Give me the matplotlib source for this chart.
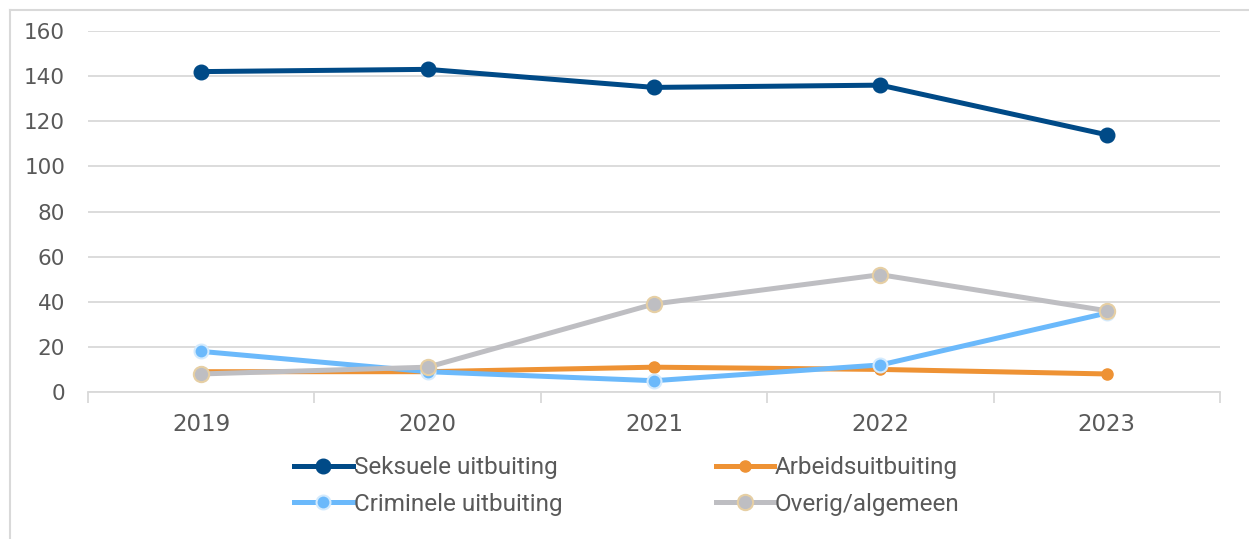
import matplotlib
matplotlib.use("Agg")
import matplotlib.pyplot as plt
from matplotlib.lines import Line2D

# ----------------------------------------
# data
# ----------------------------------------
years = ["2019", "2020", "2021", "2022", "2023"]
seksueel = [142, 143, 135, 136, 114]
arbeid = [9, 9, 11, 10, 8]
crimineel = [18, 9, 5, 12, 35]
overig = [8, 11, 39, 52, 36]
y_ticks = [0, 20, 40, 60, 80, 100, 120, 140, 160]

plt.rcParams["font.family"] = ["Roboto", "DejaVu Sans"]
TXT = "#595959"
GRID = "#D9D9D9"
LW = 3.6

fig = plt.figure(figsize=(12.49, 5.39), dpi=100)
W, H = 1249, 539
ax = fig.add_axes([88 / W, (H - 392) / H, (1220 - 88) / W, (392 - 31) / H])

x = list(range(len(years)))

l_sek, = ax.plot(x, seksueel, color="#004A87", lw=LW, marker="o", ms=10.5,
                 mfc="#004A87", mec="#004A87", label="Seksuele uitbuiting", zorder=3)
l_arb, = ax.plot(x, arbeid, color="#EE9234", lw=LW, marker="o", ms=8,
                 mfc="#EE9234", mec="#EE9234", label="Arbeidsuitbuiting", zorder=3)
l_cri, = ax.plot(x, crimineel, color="#6BB9FB", lw=LW, marker="o", ms=10,
                 mfc="#6BB9FB", mec="#D3EAFD", mew=1.5, label="Criminele uitbuiting", zorder=3)
l_ove, = ax.plot(x, overig, color="#BEBEC2", lw=LW, marker="o", ms=11,
                 mfc="#BEBEC2", mec="#E6CFA4", mew=1.5, label="Overig/algemeen", zorder=3)

ax.set_xlim(-0.5, len(years) - 0.5)
ax.set_ylim(0, 160)
ax.set_yticks(y_ticks)
ax.set_yticklabels([str(v) for v in y_ticks])
ax.grid(axis="y", color=GRID, lw=1.3, zorder=0)
ax.set_axisbelow(True)

ax.set_xticks(x)
ax.set_xticklabels(years)
ax.set_xticks([i - 0.5 for i in range(len(years) + 1)], minor=True)
ax.tick_params(axis="x", which="major", length=0, pad=15, labelsize=16.5, labelcolor=TXT)
ax.tick_params(axis="x", which="minor", length=8, width=1.3, color=GRID)
ax.tick_params(axis="y", length=0, pad=16.5, labelsize=15.5, labelcolor=TXT)
for lab in ax.get_xticklabels() + ax.get_yticklabels():
    lab.set_fontfamily(["DejaVu Sans"])

for side in ["top", "right", "left"]:
    ax.spines[side].set_visible(False)
ax.spines["bottom"].set_color(GRID)
ax.spines["bottom"].set_linewidth(1.3)

# legend is filled column by column, so order the handles for row-wise reading
handles = [l_sek, l_cri, l_arb, l_ove]
leg = ax.legend(handles=handles, labels=[h.get_label() for h in handles],
                loc="center", bbox_to_anchor=(627 / W, (H - 486) / H),
                bbox_transform=fig.transFigure, ncol=2, frameon=False,
                fontsize=17.5, handlelength=2.4, handletextpad=0.05,
                columnspacing=6.3, labelspacing=0.55, labelcolor=TXT)

# frame around the chart area
fig.add_artist(Line2D([9.5 / W, 9.5 / W], [0, (H - 10) / H], color=GRID, lw=1.5))
fig.add_artist(Line2D([9.5 / W, 1], [(H - 10) / H, (H - 10) / H], color=GRID, lw=1.5))

fig.savefig("out.png", dpi=100)
